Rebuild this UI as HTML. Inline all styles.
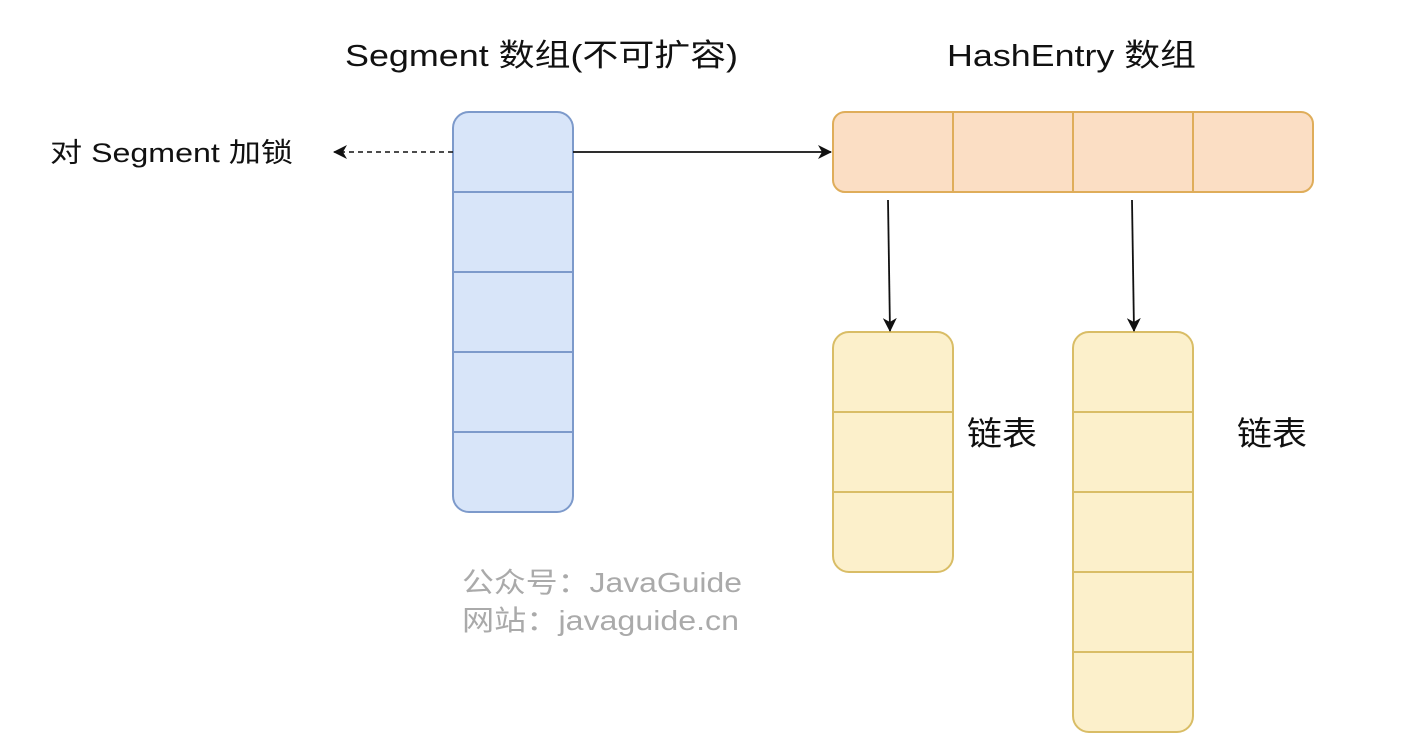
<!DOCTYPE html>
<html><head><meta charset="utf-8"><style>
html,body{margin:0;padding:0;background:#fff;}
svg{display:block;}
text{font-family:"Liberation Sans","Noto Sans CJK SC",sans-serif;}
</style></head><body>
<svg width="1424" height="744" viewBox="0 0 1424 744" xmlns="http://www.w3.org/2000/svg">
<defs>
<marker id="ar" viewBox="0 0 14 14" refX="13" refY="7" markerWidth="14" markerHeight="14" markerUnits="userSpaceOnUse" orient="auto">
<path d="M0,0 L14,7 L0,14 L4,7 Z" fill="#111"/></marker>
</defs>
<text x="345" y="66" font-size="31" textLength="393" lengthAdjust="spacingAndGlyphs" fill="#111">Segment 数组(不可扩容)</text>
<text x="947" y="66" font-size="31" textLength="249" lengthAdjust="spacingAndGlyphs" fill="#111">HashEntry 数组</text>
<text x="50" y="162" font-size="27" textLength="243" lengthAdjust="spacingAndGlyphs" fill="#111">对 Segment 加锁</text>

<rect x="453" y="112" width="120" height="400" rx="16" fill="#d8e5f9" stroke="#7d9acb" stroke-width="2"/>
<g stroke="#7d9acb" stroke-width="2">
<line x1="453" y1="192" x2="573" y2="192"/><line x1="453" y1="272" x2="573" y2="272"/>
<line x1="453" y1="352" x2="573" y2="352"/><line x1="453" y1="432" x2="573" y2="432"/></g>

<rect x="833" y="112" width="480" height="80" rx="12" fill="#fbdec4" stroke="#dfad5a" stroke-width="2"/>
<g stroke="#dfad5a" stroke-width="2">
<line x1="953" y1="112" x2="953" y2="192"/><line x1="1073" y1="112" x2="1073" y2="192"/><line x1="1193" y1="112" x2="1193" y2="192"/></g>

<rect x="833" y="332" width="120" height="240" rx="16" fill="#fcf0cb" stroke="#d9bd66" stroke-width="2"/>
<g stroke="#d9bd66" stroke-width="2">
<line x1="833" y1="412" x2="953" y2="412"/><line x1="833" y1="492" x2="953" y2="492"/></g>
<rect x="1073" y="332" width="120" height="400" rx="16" fill="#fcf0cb" stroke="#d9bd66" stroke-width="2"/>
<g stroke="#d9bd66" stroke-width="2">
<line x1="1073" y1="412" x2="1193" y2="412"/><line x1="1073" y1="492" x2="1193" y2="492"/>
<line x1="1073" y1="572" x2="1193" y2="572"/><line x1="1073" y1="652" x2="1193" y2="652"/></g>

<line x1="573" y1="152" x2="831" y2="152" stroke="#111" stroke-width="1.8" marker-end="url(#ar)"/>
<line x1="453" y1="152" x2="334" y2="152" stroke="#111" stroke-width="1.6" stroke-dasharray="5 4" marker-end="url(#ar)"/>
<line x1="888" y1="200" x2="890" y2="331" stroke="#111" stroke-width="1.8" marker-end="url(#ar)"/>
<line x1="1132" y1="200" x2="1134" y2="331" stroke="#111" stroke-width="1.8" marker-end="url(#ar)"/>

<text x="967" y="445" font-size="33" textLength="70" lengthAdjust="spacingAndGlyphs" fill="#111">链表</text>
<text x="1237" y="445" font-size="33" textLength="70" lengthAdjust="spacingAndGlyphs" fill="#111">链表</text>

<text x="462" y="592" font-size="28" textLength="280" lengthAdjust="spacingAndGlyphs" fill="#aaa">公众号：JavaGuide</text>
<text x="462" y="630" font-size="28" textLength="277" lengthAdjust="spacingAndGlyphs" fill="#aaa">网站：javaguide.cn</text>
</svg>
</body></html>
